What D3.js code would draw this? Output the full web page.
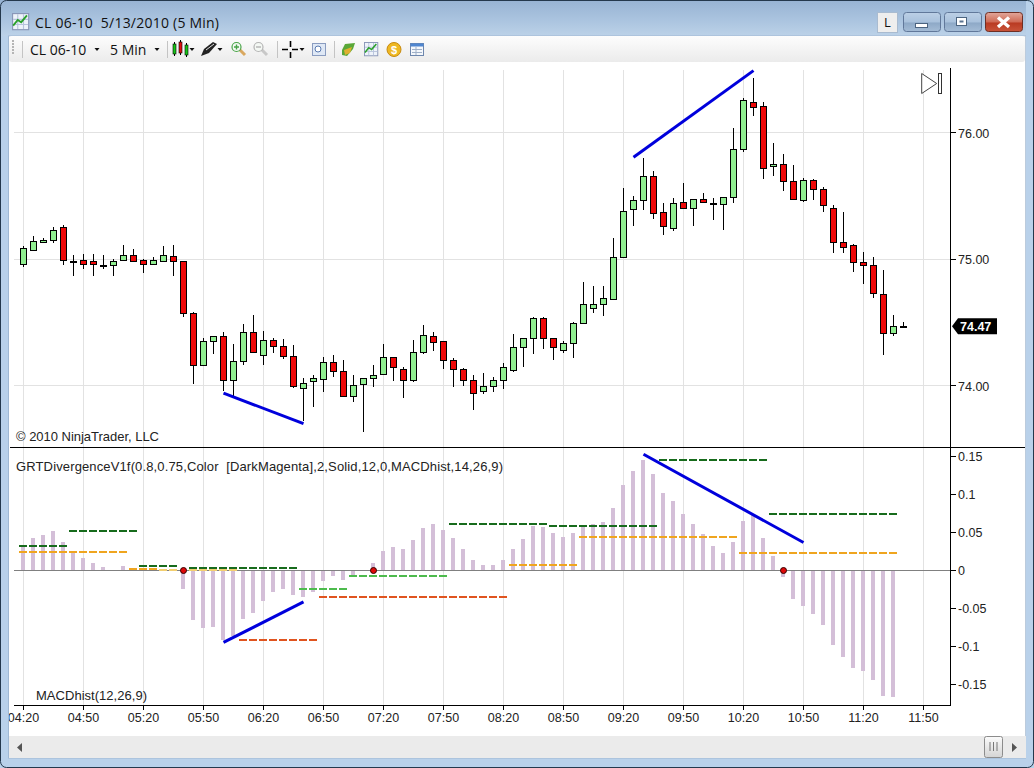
<!DOCTYPE html>
<html>
<head>
<meta charset="utf-8">
<script src="https://cdn.jsdelivr.net/npm/d3@7"></script>
<style>
    html, body { margin: 0; padding: 0; background: #b9d1ea; overflow: hidden; }
    svg { display: block; }
    text { font-family: "Liberation Sans", Arial, sans-serif; }
    .ui { font-family: "Open Sans", sans-serif; }
    .crisp { shape-rendering: crispEdges; }
</style>
</head>
<body>
<div id="vis"></div>
<script>
// Chart values, one entry per 5 minute bar starting at 04:20
const OPENS = [74.96,75.07,75.13,75.15,75.25,74.98,74.99,74.98,74.95,74.95,74.99,75.03,74.99,74.96,74.98,75.02,74.98,74.57,74.16,74.35,74.39,74.04,74.19,74.42,
    74.24,74.36,74.31,74.23,73.98,74.03,74.05,74.18,74.11,73.91,74.01,74.06,74.09,74.22,74.13,74.04,74.26,74.39,74.35,74.20,74.13,74.04,73.95,73.99,
    74.04,74.12,74.30,74.37,74.53,74.37,74.28,74.33,74.49,74.61,74.64,74.68,75.01,75.39,75.46,75.65,75.37,75.24,75.45,75.40,75.47,75.44,75.43,75.49,
    75.87,76.24,76.21,75.73,75.75,75.61,75.46,75.62,75.55,75.40,75.13,75.11,74.97,74.95,74.72,74.41,74.47];
const HIGHS = [75.10,75.18,75.17,75.25,75.27,75.03,75.04,75.04,75.03,75.00,75.11,75.08,75.00,75.02,75.10,75.11,74.98,74.58,74.38,74.39,74.42,74.33,74.49,74.56,
    74.43,74.38,74.37,74.32,74.06,74.08,74.23,74.24,74.20,74.08,74.06,74.16,74.33,74.23,74.15,74.36,74.48,74.42,74.35,74.22,74.14,74.08,74.10,74.07,
    74.18,74.41,74.38,74.54,74.54,74.37,74.35,74.50,74.82,74.79,74.79,75.17,75.56,75.50,75.80,75.70,75.44,75.48,75.60,75.47,75.52,75.48,75.49,76.04,
    76.27,76.43,76.24,75.92,75.83,75.74,75.64,75.63,75.57,75.43,75.37,75.12,75.06,75.02,74.91,74.56,74.50];
const LOWS = [74.94,75.07,75.13,75.13,74.95,74.87,74.92,74.87,74.92,74.87,74.99,74.98,74.89,74.96,74.98,74.87,74.54,74.01,74.16,74.25,73.96,73.92,74.16,74.26,
    74.16,74.26,74.21,73.98,73.72,73.83,73.95,74.07,73.91,73.87,73.63,73.99,74.08,74.04,73.90,74.03,74.25,74.27,74.13,73.99,74.00,73.81,73.93,73.95,
    73.97,74.11,74.15,74.25,74.29,74.20,74.26,74.22,74.49,74.57,74.55,74.68,75.01,75.26,75.39,75.32,75.19,75.22,75.40,75.26,75.44,75.31,75.23,75.44,
    75.85,76.13,75.63,75.66,75.54,75.47,75.45,75.47,75.37,75.05,75.05,74.90,74.80,74.69,74.24,74.39,74.47];
const CLOSES = [75.08,75.14,75.15,75.23,74.99,74.98,74.955,74.955,74.945,74.98,75.03,74.98,74.96,74.99,75.03,74.98,74.57,74.16,74.35,74.39,74.04,74.19,74.42,74.26,
    74.36,74.31,74.23,73.99,74.02,74.06,74.18,74.11,73.91,74.00,74.06,74.08,74.22,74.14,74.04,74.26,74.40,74.34,74.20,74.13,74.04,73.94,73.99,74.04,
    74.14,74.30,74.37,74.53,74.37,74.30,74.33,74.49,74.64,74.64,74.69,75.01,75.38,75.46,75.65,75.36,75.26,75.44,75.40,75.47,75.45,75.44,75.49,75.87,
    76.25,76.20,75.72,75.75,75.61,75.47,75.62,75.55,75.42,75.13,75.09,74.97,74.95,74.73,74.41,74.47,74.47];
const MACD_HIST = [0.033,0.043,0.047,0.052,0.037,0.024,0.016,0.010,0.004,0.001,0.006,0.002,0.002,0.002,0.001,0.001,-0.024,-0.065,-0.076,-0.074,-0.092,-0.086,-0.064,-0.056,
    -0.040,-0.029,-0.024,-0.033,-0.035,-0.028,-0.014,-0.007,-0.012,-0.006,0.000,0.010,0.026,0.031,0.028,0.040,0.056,0.061,0.053,0.043,0.029,0.014,0.007,0.007,
    0.014,0.028,0.041,0.059,0.057,0.049,0.044,0.049,0.057,0.062,0.064,0.082,0.113,0.131,0.146,0.128,0.102,0.092,0.074,0.062,0.048,0.032,0.023,0.037,
    0.066,0.073,0.043,0.019,-0.009,-0.038,-0.047,-0.058,-0.072,-0.099,-0.114,-0.129,-0.133,-0.145,-0.166,-0.167];

// Dashed levels as [first bar, last bar, value]
const DARK_GREEN_LEVELS = [[0,4,0.033],[5,11,0.052],[12,15,0.006],[17,27,0.003],[43,52,0.061],[53,63,0.0585],[64,74,0.1456],[75,87,0.0744]];
const ORANGE_LEVELS = [[0,10,0.024],[11,13,0.002],[49,55,0.007],[56,71,0.044],[72,87,0.023]];
const PALE_ORANGE_LEVELS = [[14,15,0.0005],[17,21,0.0005]];
const LIGHT_GREEN_LEVELS = [[28,32,-0.0246],[33,42,-0.007]];
const RED_LEVELS = [[22,29,-0.0915],[30,48,-0.035]];

// Drawn divergence lines as [bar, value, bar, value]
const PRICE_TRENDS = [[20,73.94,28,73.70],[61,75.805,73,76.49]];
const MACD_TRENDS = [[20,-0.095,28,-0.0414],[62,0.1535,78,0.037]];
const CROSS_BARS = [16,35,76];

const PRICE_TICKS = [74,75,76];
const MACD_TICKS = [0.15,0.1,0.05,0,-0.05,-0.1,-0.15];
const TIME_LABELS = ["04:20","04:50","05:20","05:50","06:20","06:50","07:20","07:50","08:20","08:50","09:20","09:50","10:20","10:50","11:20","11:50"];
const LAST_PRICE = 74.47;

// Constants for the layout
const WIDTH = 1034;
const HEIGHT = 768;
const PLOT = {left:14, right:950, top:68, divider:447, bottom:705};

const SVG = d3.select("#vis").append("svg").attr("width", WIDTH).attr("height", HEIGHT);
const defs = SVG.append("defs");

function gradient(id, stops) {
    const g = defs.append("linearGradient").attr("id", id).attr("x1", 0).attr("x2", 0).attr("y1", 0).attr("y2", 1);
    stops.forEach((s) => g.append("stop").attr("offset", s[0]).attr("stop-color", s[1]));
}
gradient("titleGrad", [[0,"#97b3d3"],[0.6,"#acc5e0"],[1,"#bcd2e8"]]);
gradient("toolGrad", [[0,"#fdfdfd"],[1,"#ebebeb"]]);
gradient("btnGrad", [[0,"#bcd0e6"],[0.5,"#a9c1dc"],[0.55,"#8ea9c7"],[1,"#a4bcd6"]]);
gradient("closeGrad", [[0,"#e2a79b"],[0.5,"#cf6a55"],[0.55,"#b93a22"],[1,"#c9543a"]]);
gradient("barGrad", [[0,"#fbfbfb"],[1,"#d4d4d4"]]);

// Scales: one unit on the x scale is one bar
const X_SCALE = d3.scaleLinear().domain([0, 1]).range([23.5, 33.5]);
const PRICE_SCALE = d3.scaleLinear().domain([76, 74]).range([132.6, 385.6]);
const MACD_SCALE = d3.scaleLinear().domain([0.15, -0.15]).range([456.9, 684.1]);
const TIME_INDEX = TIME_LABELS.map((d, i) => i * 6);

// client area
SVG.append("rect").attr("width", WIDTH).attr("height", HEIGHT).attr("fill", "#b9d1ea");
SVG.append("rect").attr("x", 9).attr("y", 36).attr("width", 1017).attr("height", 700).attr("fill", "#fff");

// grid lines for both panels
const GRID = SVG.append("g").attr("class", "crisp").attr("stroke", "#e2e2e2");
GRID.selectAll(".vgrid").data(TIME_INDEX).enter().append("line")
    .attr("x1", (d) => X_SCALE(d)).attr("x2", (d) => X_SCALE(d))
    .attr("y1", PLOT.top + 2).attr("y2", PLOT.bottom);
GRID.selectAll(".hgrid").data(PRICE_TICKS).enter().append("line")
    .attr("x1", PLOT.left).attr("x2", PLOT.right)
    .attr("y1", (d) => PRICE_SCALE(d)).attr("y2", (d) => PRICE_SCALE(d));

// candles
const BARS = OPENS.map((o, i) => ({i:i, o:o, h:HIGHS[i], l:LOWS[i], c:CLOSES[i]}));
const CANDLES = SVG.append("g").attr("class", "crisp");
CANDLES.selectAll(".wick").data(BARS).enter().append("line")
    .attr("x1", (d) => X_SCALE(d.i)).attr("x2", (d) => X_SCALE(d.i))
    .attr("y1", (d) => PRICE_SCALE(d.h)).attr("y2", (d) => PRICE_SCALE(d.l))
    .attr("stroke", "#000");
CANDLES.selectAll(".body").data(BARS).enter().append("rect")
    .attr("x", (d) => X_SCALE(d.i) - 3)
    .attr("width", 6)
    .attr("y", (d) => PRICE_SCALE(Math.max(d.o, d.c)))
    .attr("height", (d) => Math.max(1, Math.abs(PRICE_SCALE(d.o) - PRICE_SCALE(d.c))))
    .attr("fill", (d) => d.c > d.o ? "#90ee90" : d.c < d.o ? "#ee0808" : "#000")
    .attr("stroke", "#000");

// drawn trend lines
function drawTrends(data, scale) {
    SVG.append("g").selectAll("line").data(data).enter().append("line")
        .attr("x1", (d) => X_SCALE(d[0])).attr("y1", (d) => scale(d[1]))
        .attr("x2", (d) => X_SCALE(d[2])).attr("y2", (d) => scale(d[3]))
        .attr("stroke", "#0000dc").attr("stroke-width", 3);
}
drawTrends(PRICE_TRENDS, PRICE_SCALE);

// end of chart marker
SVG.append("path").attr("d", "M921.7,73.5V93.5L936.7,83.5Z").attr("fill", "#fff").attr("stroke", "#444");
SVG.append("rect").attr("x", 938.5).attr("y", 73.5).attr("width", 3).attr("height", 20).attr("fill", "#fff").attr("stroke", "#333");

SVG.append("text").attr("x", 16).attr("y", 441).attr("font-size", 13).attr("textLength", 143).attr("fill", "#222").text("© 2010 NinjaTrader, LLC");

// MACD histogram
SVG.append("g").attr("class", "crisp").selectAll("rect").data(MACD_HIST).enter().append("rect")
    .attr("x", (d, i) => X_SCALE(i) - 2.5)
    .attr("width", 4)
    .attr("y", (d) => Math.min(MACD_SCALE(d), MACD_SCALE(0)))
    .attr("height", (d) => Math.abs(MACD_SCALE(d) - MACD_SCALE(0)))
    .attr("fill", "#d4bfd8");

// zero line
SVG.append("line").attr("class", "crisp")
    .attr("x1", PLOT.left).attr("x2", PLOT.right)
    .attr("y1", MACD_SCALE(0)).attr("y2", MACD_SCALE(0))
    .attr("stroke", "#808080");

// dashed levels
function drawLevels(data, color) {
    SVG.append("g").attr("class", "crisp").selectAll("line").data(data).enter().append("line")
        .attr("x1", (d) => X_SCALE(d[0]) - 4.5).attr("x2", (d) => X_SCALE(d[1]) + 4.5)
        .attr("y1", (d) => MACD_SCALE(d[2])).attr("y2", (d) => MACD_SCALE(d[2]))
        .attr("stroke", color).attr("stroke-width", 2).attr("stroke-dasharray", "8,2");
}
drawLevels(PALE_ORANGE_LEVELS, "#f3cf70");
drawLevels(ORANGE_LEVELS, "#efa51f");
drawLevels(DARK_GREEN_LEVELS, "#176b1c");
drawLevels(LIGHT_GREEN_LEVELS, "#4dbb4d");
drawLevels(RED_LEVELS, "#e0541f");

drawTrends(MACD_TRENDS, MACD_SCALE);

// zero cross dots
SVG.append("g").selectAll("circle").data(CROSS_BARS).enter().append("circle")
    .attr("cx", (d) => X_SCALE(d)).attr("cy", MACD_SCALE(0)).attr("r", 3)
    .attr("fill", "#e00808").attr("stroke", "#300").attr("stroke-width", 1);

SVG.append("text").attr("x", 16).attr("y", 471).attr("font-size", 13).attr("textLength", 487).attr("fill", "#222")
    .attr("xml:space", "preserve").style("white-space", "pre")
    .text("GRTDivergenceV1f(0.8,0.75,Color  [DarkMagenta],2,Solid,12,0,MACDhist,14,26,9)");
SVG.append("text").attr("x", 36).attr("y", 700).attr("font-size", 13).attr("textLength", 111).attr("fill", "#222").text("MACDhist(12,26,9)");

// axes
function styleAxis(g) {
    g.select(".domain").remove();
    g.selectAll("line").attr("stroke", "#000").attr("class", "crisp");
    g.selectAll("text").attr("font-size", 12.5).attr("fill", "#222").attr("font-family", "Liberation Sans, Arial, sans-serif");
}
SVG.append("g").attr("transform", "translate(" + PLOT.right + ",0)")
    .call(d3.axisRight(PRICE_SCALE).tickValues(PRICE_TICKS).tickFormat(d3.format(".2f")).tickSize(6).tickPadding(2).offset(0))
    .call(styleAxis).selectAll("text").attr("dy", "0.42em");
SVG.append("g").attr("transform", "translate(" + PLOT.right + ",0)")
    .call(d3.axisRight(MACD_SCALE).tickValues(MACD_TICKS).tickFormat((d) => String(d)).tickSize(6).tickPadding(2).offset(0))
    .call(styleAxis).selectAll("text").attr("dy", "0.36em");
SVG.append("g").attr("transform", "translate(0," + PLOT.bottom + ")")
    .call(d3.axisBottom(X_SCALE).tickValues(TIME_INDEX).tickFormat((d, i) => TIME_LABELS[i]).tickSize(5).tickPadding(3).offset(0))
    .call(styleAxis);

// frame lines of the panels
const FRAME = SVG.append("g").attr("class", "crisp").attr("stroke", "#000");
FRAME.append("line").attr("x1", PLOT.right + 0.5).attr("x2", PLOT.right + 0.5).attr("y1", PLOT.top).attr("y2", PLOT.bottom + 0.5);
FRAME.append("line").attr("x1", 10).attr("x2", 1025).attr("y1", PLOT.divider + 0.5).attr("y2", PLOT.divider + 0.5);
FRAME.append("line").attr("x1", PLOT.left).attr("x2", PLOT.right).attr("y1", PLOT.bottom + 0.5).attr("y2", PLOT.bottom + 0.5);

// last price tag
const LAST_Y = PRICE_SCALE(LAST_PRICE);
SVG.append("path").attr("d", "M952," + LAST_Y + "l6,-8h39v16h-39z").attr("fill", "#000");
SVG.append("text").attr("x", 960).attr("y", LAST_Y + 4.5).attr("font-size", 12.5).attr("font-weight", "bold").attr("fill", "#fff").text(LAST_PRICE.toFixed(2));

// window chrome, drawn over the plot so it clips the first time label
SVG.append("rect").attr("width", WIDTH).attr("height", 36).attr("fill", "url(#titleGrad)");
SVG.append("rect").attr("width", 9).attr("height", HEIGHT).attr("fill", "#b9d1ea");
SVG.append("rect").attr("x", 1026).attr("width", 8).attr("height", HEIGHT).attr("fill", "#b9d1ea");
SVG.append("rect").attr("y", 758).attr("width", WIDTH).attr("height", 10).attr("fill", "#b9d1ea");
SVG.append("rect").attr("y", 0).attr("width", 9).attr("height", 36).attr("fill", "url(#titleGrad)");
SVG.append("rect").attr("x", 8.5).attr("y", 36).attr("width", 1017).attr("height", 722).attr("fill", "none").attr("stroke", "#8fa9c4").attr("stroke-opacity", 0.6);
SVG.append("rect").attr("x", 0.5).attr("y", 0.5).attr("width", WIDTH - 1).attr("height", HEIGHT - 1).attr("rx", 6)
    .attr("fill", "none").attr("stroke", "#24384c");

// title
SVG.append("text").attr("class", "ui").attr("x", 35).attr("y", 28).attr("font-size", 14).attr("textLength", 184).attr("fill", "#111")
    .attr("xml:space", "preserve").style("white-space", "pre").text("CL 06-10  5/13/2010 (5 Min)");

function chartIcon(x, y, s) {
    const g = SVG.append("g").attr("transform", "translate(" + x + "," + y + ") scale(" + s + ")");
    g.append("rect").attr("x", 0.5).attr("y", 0.5).attr("width", 14).attr("height", 14).attr("fill", "#eef3fa").attr("stroke", "#8a97b8");
    g.append("path").attr("d", "M1,5.5H14M1,10H14M5,1V14M10,1V14").attr("stroke", "#b8c4dc").attr("fill", "none");
    g.append("path").attr("d", "M1,11L5,6L8,8L13,2").attr("stroke", "#2aa02a").attr("stroke-width", 1.6).attr("fill", "none");
}
chartIcon(12, 13, 1.15);

// window buttons
SVG.append("rect").attr("x", 877.5).attr("y", 12.5).attr("width", 20).attr("height", 20).attr("fill", "#eee").attr("stroke", "#a9bbd0");
SVG.append("text").attr("class", "ui").attr("x", 887.5).attr("y", 27).attr("font-size", 13).attr("text-anchor", "middle").attr("fill", "#111").text("L");
[[903,"btnGrad"],[944,"btnGrad"],[985,"closeGrad"]].forEach((b) => {
    SVG.append("rect").attr("x", b[0] + 0.5).attr("y", 12.5).attr("width", 37).attr("height", 19).attr("rx", 3)
        .attr("fill", "url(#" + b[1] + ")").attr("stroke", b[1] == "closeGrad" ? "#6e2f25" : "#61789a");
});
SVG.append("rect").attr("x", 915.5).attr("y", 23.5).attr("width", 12).attr("height", 4).attr("fill", "#fff").attr("stroke", "#4c6480");
SVG.append("rect").attr("x", 956.5).attr("y", 17.5).attr("width", 10).attr("height", 8).attr("fill", "#fff").attr("stroke", "#4c6480");
SVG.append("rect").attr("x", 959.5).attr("y", 20.5).attr("width", 4).attr("height", 2).attr("fill", "#5a7390");
SVG.append("path").attr("d", "M998,17.5L1009,27M1009,17.5L998,27").attr("stroke", "#fff").attr("stroke-width", 3.4);

// toolbar
SVG.append("rect").attr("x", 9).attr("y", 36).attr("width", 1016).attr("height", 26).attr("rx", 3).attr("fill", "url(#toolGrad)");
SVG.append("path").attr("d", "M13,40V54").attr("stroke", "#b5b5b5").attr("stroke-width", 2).attr("stroke-dasharray", "2,1");
[22,167,277,334].forEach((x) => {
    SVG.append("line").attr("class", "crisp").attr("x1", x).attr("x2", x).attr("y1", 41).attr("y2", 58).attr("stroke", "#c4c4c4");
});
SVG.append("text").attr("class", "ui").attr("x", 30).attr("y", 55).attr("font-size", 14).attr("fill", "#111").text("CL 06-10");
SVG.append("text").attr("class", "ui").attr("x", 110).attr("y", 55).attr("font-size", 14).attr("fill", "#111").text("5 Min");
[97,157,192,220,302].forEach((x) => {
    SVG.append("path").attr("d", "M" + (x - 2.5) + ",48h5l-2.5,3z").attr("fill", "#111");
});

// candle icon
[[173,"#18c418",44,10],[179,"#e01010",42,11],[185,"#18c418",45,10]].forEach((c) => {
    SVG.append("line").attr("x1", c[0] + 1.5).attr("x2", c[0] + 1.5).attr("y1", c[2] - 2).attr("y2", c[2] + c[3] + 2).attr("stroke", "#000");
    SVG.append("rect").attr("x", c[0]).attr("y", c[2]).attr("width", 3).attr("height", c[3]).attr("fill", c[1]).attr("stroke", "#000").attr("stroke-width", 0.6);
});
// pen icon
SVG.append("path").attr("d", "M201,56L204,49L213,42L217,44L209,53Z").attr("fill", "#222");
SVG.append("path").attr("d", "M206,50L214,44").attr("stroke", "#ddd").attr("stroke-width", 1);

// magnifier icons
function magnifier(x, glass, handle, sign) {
    SVG.append("line").attr("x1", x + 7).attr("y1", 49).attr("x2", x + 13).attr("y2", 55).attr("stroke", handle).attr("stroke-width", 3);
    SVG.append("circle").attr("cx", x + 4.5).attr("cy", 47).attr("r", 4.5).attr("fill", "#f4f8f4").attr("stroke", glass).attr("stroke-width", 1.2);
    SVG.append("path").attr("d", sign).attr("stroke", glass).attr("stroke-width", 1.4);
}
magnifier(232, "#48a448", "#d9a860", "M234,47h5M236.5,44.5v5");
magnifier(254, "#b4b4b4", "#c8c8c8", "M256,47h5");

// crosshair icon
SVG.append("path").attr("d", "M282,49.5h6M292,49.5h6M290.5,41v6M290.5,52v6").attr("stroke", "#000").attr("stroke-width", 1.6);

// zoom box icon
SVG.append("rect").attr("x", 312.5).attr("y", 43.5).attr("width", 13).attr("height", 12).attr("fill", "#dfe8f5").attr("stroke", "#8a9cc0");
SVG.append("circle").attr("cx", 318).attr("cy", 49).attr("r", 3).attr("fill", "#fff").attr("stroke", "#5a7ab0");

// data box, chart, coin and table icons
SVG.append("path").attr("d", "M342,50L345,44L355,43L353,49L347,56L342,55Z").attr("fill", "#5aa838");
SVG.append("path").attr("d", "M344,50L352,47L350,53L345,55Z").attr("fill", "#e0b030");
chartIcon(364, 42, 0.95);
SVG.append("circle").attr("cx", 394).attr("cy", 49.5).attr("r", 7).attr("fill", "#eeb822").attr("stroke", "#c88a10");
SVG.append("text").attr("x", 394).attr("y", 53.5).attr("text-anchor", "middle").attr("font-size", 11).attr("font-weight", "bold").attr("fill", "#fff").text("$");
SVG.append("rect").attr("x", 410.5).attr("y", 43.5).attr("width", 13).attr("height", 12).attr("fill", "#f4f7fb").attr("stroke", "#6d86ad");
SVG.append("rect").attr("x", 410.5).attr("y", 43.5).attr("width", 13).attr("height", 3).attr("fill", "#4f86d0");
SVG.append("path").attr("d", "M412,49.5h10M412,52.5h10M416,47v8").attr("stroke", "#9fb0c8");

// scroll bar
SVG.append("rect").attr("x", 9).attr("y", 736).attr("width", 1017).attr("height", 22).attr("fill", "#ebebeb");
SVG.append("path").attr("d", "M22,743v9l-5,-4.5z").attr("fill", "#555");
SVG.append("path").attr("d", "M1012,743v9l5,-4.5z").attr("fill", "#555");
SVG.append("rect").attr("x", 984.5).attr("y", 736.5).attr("width", 18).attr("height", 21).attr("rx", 2).attr("fill", "url(#barGrad)").attr("stroke", "#8c8c8c");
SVG.append("path").attr("d", "M990,742v9M993.5,742v9M997,742v9").attr("stroke", "#777");
</script>
</body>
</html>
